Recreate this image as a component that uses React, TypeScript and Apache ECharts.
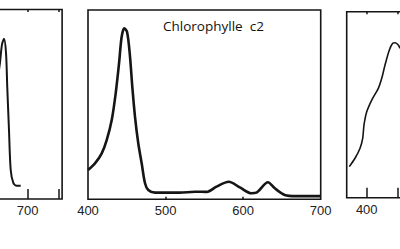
import React, { useEffect, useRef } from "react";
import * as echarts from "echarts";

// Left panel (partially visible): wavelength (nm) and relative absorbance
const leftWavelengths = [650, 655.3, 658.5, 661.8, 665, 667, 669.8, 672.6, 676.8, 682.3, 688.7];
const leftValues = [0.6, 0.72, 0.815, 0.845, 0.772, 0.594, 0.365, 0.153, 0.085, 0.07, 0.07];
const leftTicks = [700, 750];
const leftLabels = [700];

// Middle panel: Chlorophylle c2
const midTitle = "Chlorophylle  c2";
const midWavelengths = [400, 409, 417.7, 424.1, 430.6, 435.7, 440, 443.4, 446.8, 450.3, 453.8, 457.1, 460.6, 464.8, 469.2, 473.5, 477.7, 486.4, 518, 538, 553, 565.7, 581.5, 595.7, 610.7, 617, 632, 640.8, 653.6, 668.7, 700];
const midValues = [0.155, 0.19, 0.243, 0.313, 0.419, 0.56, 0.718, 0.859, 0.903, 0.885, 0.771, 0.595, 0.436, 0.296, 0.19, 0.085, 0.049, 0.035, 0.035, 0.04, 0.039, 0.067, 0.093, 0.063, 0.032, 0.035, 0.09, 0.058, 0.023, 0.017, 0.017];
const midTicks = [500, 600];
const midLabels = [400, 500, 600, 700];

// Right panel (partially visible)
const rightWavelengths = [371.9, 381.1, 389.2, 393.5, 395.6, 400, 408.1, 418.7, 424.2, 429.5, 436.5, 441.9, 446.1, 450.9, 453.7];
const rightValues = [0.167, 0.212, 0.266, 0.319, 0.391, 0.462, 0.525, 0.588, 0.642, 0.713, 0.794, 0.83, 0.833, 0.821, 0.803];
const rightTicks = [400, 450];
const rightLabels = [400];

const INK = "#151515";
const LABEL_FONT = "'Liberation Sans', Arial, sans-serif";

export default function App() {
  const ref = useRef<HTMLDivElement>(null);
  useEffect(() => {
    if (!ref.current) return;
    const chart = echarts.init(ref.current, undefined, { renderer: "svg" });
    const pxPerNmSide = 0.62;
    const grids = [
      { left: 27.7 - (700 - 650) * pxPerNmSide, top: 9.5, width: (755.5 - 650) * pxPerNmSide, height: 189.5 },
      { left: 88, top: 10, width: 232.7, height: 189.3 },
      { left: 346.7, top: 11.7, width: (500 - 367.7) * pxPerNmSide, height: 186 },
    ].map((g) => ({
      ...g,
      show: true,
      borderColor: INK,
      borderWidth: 1.6,
      backgroundColor: "transparent",
      containLabel: false,
      outerBoundsMode: "none",
    }));

    const mkX = (idx: number, min: number, max: number, ticks: number[], labels: number[], tickLen: number) => ({
      type: "value",
      gridIndex: idx,
      min,
      max,
      axisLine: { show: false },
      splitLine: { show: false },
      axisTick: { show: true, inside: true, length: tickLen, customValues: ticks, lineStyle: { color: INK, width: 1.5 } },
      axisLabel: {
        show: true,
        customValues: labels,
        margin: 5,
        fontSize: 13,
        fontFamily: LABEL_FONT,
        color: "#222",
      },
    });
    const mkXTop = (idx: number, min: number, max: number, ticks: number[]) => ({
      type: "value",
      gridIndex: idx,
      position: "top",
      min,
      max,
      axisLine: { show: false },
      splitLine: { show: false },
      axisTick: { show: true, inside: true, length: 2.5, customValues: ticks, lineStyle: { color: INK, width: 1.5 } },
      axisLabel: { show: false },
    });
    const mkY = (idx: number) => ({ type: "value", gridIndex: idx, min: 0, max: 1, show: false });

    const toData = (xs: number[], ys: number[]) => xs.map((x, i) => [x, ys[i]]);

    chart.setOption({
      animation: false,
      title: {
        text: midTitle,
        left: 158,
        top: 14,
        textStyle: { fontSize: 13.5, fontWeight: "normal", color: "#111", fontFamily: "'Open Sans', sans-serif" },
      },
      grid: grids,
      xAxis: [
        mkX(0, 650, 755.5, leftTicks, leftLabels, 10),
        mkX(1, 400, 700, midTicks, midLabels, 2.5),
        mkX(2, 367.7, 500, rightTicks, rightLabels, 10),
        mkXTop(0, 650, 755.5, leftTicks),
        mkXTop(2, 367.7, 500, rightTicks),
      ],
      yAxis: [mkY(0), mkY(1), mkY(2)],
      series: [
        {
          type: "line",
          xAxisIndex: 0,
          yAxisIndex: 0,
          data: toData(leftWavelengths, leftValues),
          smooth: 0.3,
          showSymbol: false,
          lineStyle: { color: INK, width: 2 },
        },
        {
          type: "line",
          xAxisIndex: 1,
          yAxisIndex: 1,
          data: toData(midWavelengths, midValues),
          smooth: 0.3,
          showSymbol: false,
          lineStyle: { color: INK, width: 2.6 },
        },
        {
          type: "line",
          xAxisIndex: 2,
          yAxisIndex: 2,
          data: toData(rightWavelengths, rightValues),
          smooth: 0.3,
          showSymbol: false,
          lineStyle: { color: INK, width: 1.6 },
        },
      ],
    });
    return () => chart.dispose();
  }, []);
  return (
    <div
      ref={ref}
      style={{ position: "fixed", left: 0, top: 0, width: 400, height: 249, background: "#fff" }}
    />
  );
}
